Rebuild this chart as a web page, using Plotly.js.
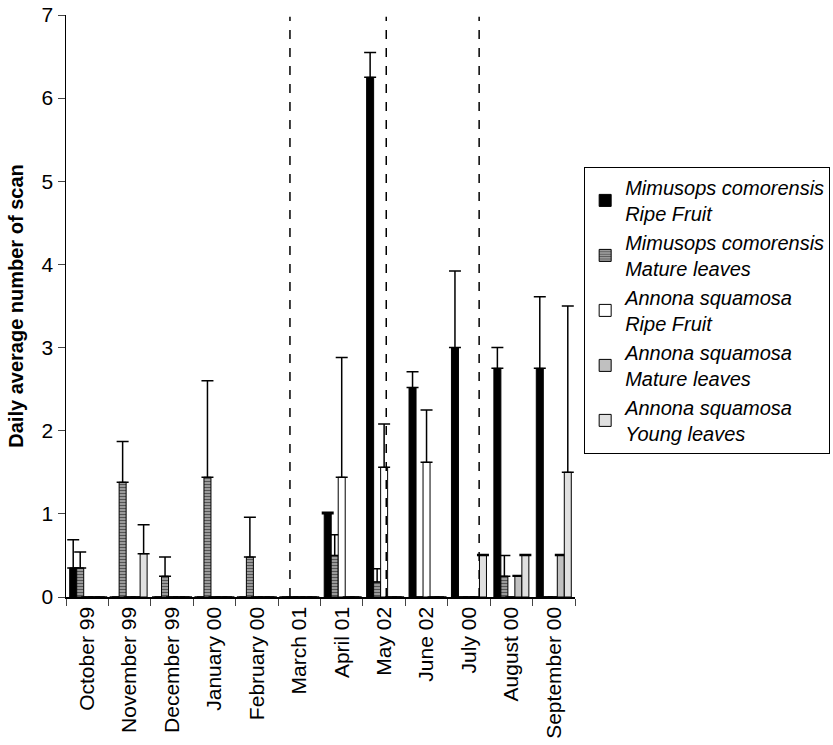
<!DOCTYPE html>
<html>
<head>
<meta charset="utf-8">
<script src="https://cdn.plot.ly/plotly-3.0.1.min.js"></script>
<style>html,body{margin:0;padding:0;background:#fff;overflow:hidden;}#chart{width:833px;height:745px;}</style>
</head>
<body>
<div id="chart"></div>
<script>
const months = ["October 99","November 99","December 99","January 00","February 00","March 01","April 01","May 02","June 02","July 00","August 00","September 00"];

const mimRipe      = [0.35, 0,    0,    0,    0,    0, 1.00, 6.25, 2.52, 3.00, 2.75, 2.75];
const mimRipeErr   = [0.34, 0,    0,    0,    0,    0, 0.02, 0.30, 0.19, 0.92, 0.25, 0.86];
const mimMature    = [0.35, 1.38, 0.25, 1.44, 0.48, 0, 0.50, 0.18, 0,    0,    0.25, 0];
const mimMatureErr = [0.19, 0.49, 0.23, 1.16, 0.48, 0, 0.25, 0.16, 0,    0,    0.25, 0];
const annRipe      = [0,    0,    0,    0,    0,    0, 1.44, 1.56, 1.62, 0,    0,    0];
const annRipeErr   = [0,    0,    0,    0,    0,    0, 1.44, 0.52, 0.63, 0,    0,    0];
const annMature    = [0,    0,    0,    0,    0,    0, 0,    0,    0,    0,    0.25, 0.50];
const annMatureErr = [0,    0,    0,    0,    0,    0, 0,    0,    0,    0,    0.01, 0.01];
const annYoung     = [0,    0.52, 0,    0,    0,    0, 0,    0,    0,    0.50, 0.50, 1.50];
const annYoungErr  = [0,    0.35, 0,    0,    0,    0, 0,    0,    0,    0.01, 0.01, 2.00];

const seriesNames = [
  "<i>Mimusops comorensis<br>Ripe Fruit</i>",
  "<i>Mimusops comorensis<br>Mature leaves</i>",
  "<i>Annona squamosa<br>Ripe Fruit</i>",
  "<i>Annona squamosa<br>Mature leaves</i>",
  "<i>Annona squamosa<br>Young leaves</i>"
];

const dividerPositions = [4.78, 7.05, 9.24];

function errUp(arr){
  return {type:'data', symmetric:false, array:arr, arrayminus:arr.map(()=>0),
          color:'#000', thickness:1.5, width:6};
}
const line = {color:'#000', width:1};

const traces = [
  {type:'bar', name:seriesNames[0], x:months, y:mimRipe, error_y:errUp(mimRipeErr),
   marker:{color:'#000', line:line}},
  {type:'bar', name:seriesNames[1], x:months, y:mimMature, error_y:errUp(mimMatureErr),
   marker:{color:'#8a8a8a', line:line, pattern:{shape:'-', bgcolor:'#a8a8a8', fgcolor:'#555', size:3, solidity:0.45}}},
  {type:'bar', name:seriesNames[2], x:months, y:annRipe, error_y:errUp(annRipeErr),
   marker:{color:'#fff', line:line}},
  {type:'bar', name:seriesNames[3], x:months, y:annMature, error_y:errUp(annMatureErr),
   marker:{color:'#c0c0c0', line:line}},
  {type:'bar', name:seriesNames[4], x:months, y:annYoung, error_y:errUp(annYoungErr),
   marker:{color:'#e0e0e0', line:line}}
];

const shapes = dividerPositions.map(p => ({
  type:'line', xref:'x', yref:'paper', x0:p, x1:p, y0:0, y1:0.997,
  line:{color:'#000', width:1.5, dash:'dash'}
}));

const layout = {
  width:833, height:745,
  margin:{l:66, r:258, t:15, b:148, autoexpand:false},
  paper_bgcolor:'#fff', plot_bgcolor:'#fff',
  font:{family:'Liberation Sans, Arial, sans-serif', size:20, color:'#000'},
  barmode:'group', bargap:0.175, bargroupgap:0,
  showlegend:true,
  legend:{x:1.018, y:0.739, xanchor:'left', yanchor:'top',
          bordercolor:'#000', borderwidth:1, bgcolor:'#fff',
          font:{size:20}, traceorder:'normal', itemwidth:30, tracegroupgap:0},
  xaxis:{type:'category', tickangle:-90, ticks:'outside', tickson:'boundaries', ticklen:7,
         showline:true, linecolor:'#000', linewidth:1.5, showgrid:false, zeroline:false,
         tickfont:{size:21}, fixedrange:true},
  yaxis:{range:[0,7], dtick:1, ticks:'outside', ticklen:7, showline:true, linecolor:'#000', linewidth:1.5,
         showgrid:false, zeroline:false, tickfont:{size:21},
         title:{text:'<b>Daily average number of scan</b>', font:{size:20}, standoff:12}},
  shapes:shapes
};

Plotly.newPlot('chart', traces, layout, {displayModeBar:false, staticPlot:true});
</script>
</body>
</html>
